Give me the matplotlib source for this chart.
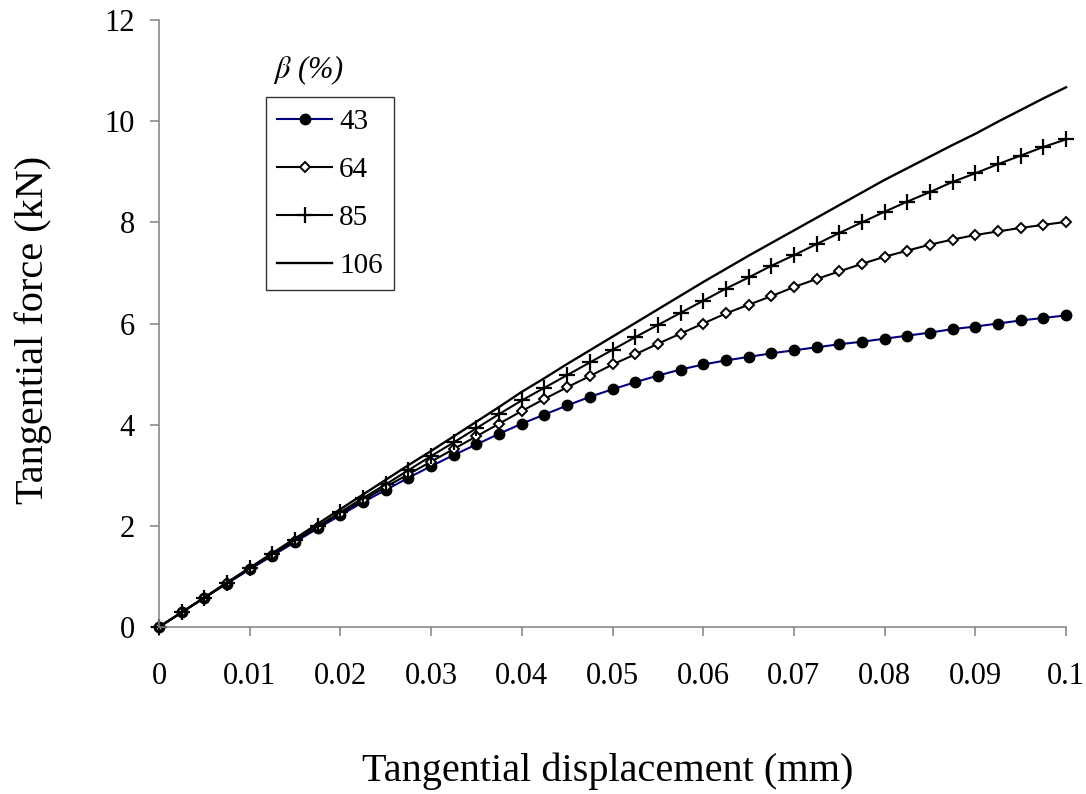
import matplotlib
matplotlib.use("Agg")
import matplotlib.pyplot as plt

plt.rcParams['font.family'] = ['Liberation Serif', 'DejaVu Serif']
plt.rcParams['mathtext.fontset'] = 'stix'

# tangential displacement (mm), step 0.0025
displacement = [i * 0.0025 for i in range(41)]

beta_labels = ["43", "64", "85", "106"]

force_43 = [0, 0.29, 0.58, 0.86, 1.14, 1.41, 1.68, 1.95, 2.21, 2.47,
            2.71, 2.95, 3.18, 3.40, 3.61, 3.82, 4.02, 4.20, 4.38, 4.55,
            4.70, 4.84, 4.97, 5.09, 5.19, 5.27, 5.34, 5.41, 5.47, 5.53,
            5.59, 5.64, 5.70, 5.76, 5.82, 5.89, 5.94, 6.00, 6.06, 6.11, 6.16]

force_64 = [0, 0.29, 0.58, 0.87, 1.15, 1.43, 1.70, 1.97, 2.24, 2.51,
            2.77, 3.02, 3.27, 3.52, 3.77, 4.02, 4.27, 4.51, 4.74, 4.96,
            5.19, 5.39, 5.60, 5.80, 6.00, 6.20, 6.37, 6.54, 6.72, 6.88,
            7.03, 7.18, 7.32, 7.44, 7.56, 7.66, 7.75, 7.82, 7.89, 7.95, 8.01]

force_85 = [0, 0.29, 0.58, 0.87, 1.16, 1.44, 1.72, 1.99, 2.27, 2.55,
            2.82, 3.10, 3.38, 3.65, 3.93, 4.21, 4.48, 4.73, 4.98, 5.23,
            5.48, 5.73, 5.97, 6.21, 6.45, 6.69, 6.91, 7.14, 7.35, 7.57,
            7.79, 8.00, 8.21, 8.41, 8.60, 8.80, 8.97, 9.15, 9.32, 9.49, 9.64]

force_106 = [0, 0.29, 0.58, 0.88, 1.17, 1.46, 1.75, 2.04, 2.33, 2.62,
             2.91, 3.20, 3.48, 3.77, 4.06, 4.35, 4.65, 4.92, 5.20, 5.47,
             5.74, 6.01, 6.28, 6.55, 6.82, 7.08, 7.34, 7.59, 7.84, 8.09,
             8.34, 8.59, 8.84, 9.07, 9.30, 9.53, 9.75, 9.99, 10.22, 10.45, 10.67]

fig = plt.figure(figsize=(10.86, 7.94), dpi=100)
ax = fig.add_axes([0.1464, 0.2103, 0.8352, 0.7645])

ax.plot(displacement, force_43, color='#000080', lw=1.5, marker='o',
        ms=7.5, mfc='black', mec='black', label=beta_labels[0], clip_on=False)
ax.plot(displacement, force_64, color='black', lw=1.5, marker='D',
        ms=5.5, mfc='white', mec='black', mew=1.4, label=beta_labels[1],
        clip_on=False)
ax.plot(displacement, force_85, color='black', lw=1.5, marker='+',
        ms=11, mew=1.6, label=beta_labels[2], clip_on=False)
ax.plot(displacement, force_106, color='black', lw=1.7, label=beta_labels[3],
        clip_on=False)

ax.set_xlim(0, 0.1)
ax.set_ylim(0, 12)
ax.set_xticks([i / 100 for i in range(11)])
ax.set_xticklabels(["0", "0.01", "0.02", "0.03", "0.04", "0.05", "0.06",
                    "0.07", "0.08", "0.09", "0.1"])
ax.set_yticks(range(0, 13, 2))

for side in ['top', 'right']:
    ax.spines[side].set_visible(False)
for side in ['left', 'bottom']:
    ax.spines[side].set_color('#808080')
    ax.spines[side].set_linewidth(1.1)
ax.tick_params(direction='out', length=6.5, width=1.1, color='#808080',
               labelsize=22)
ax.tick_params(axis='x', pad=19)
ax.tick_params(axis='y', pad=11)

ax.set_xlabel("Tangential displacement (mm)", fontsize=29)
ax.set_ylabel("Tangential force (kN)", fontsize=29)
ax.xaxis.set_label_coords(0.495, -0.207)
ax.yaxis.set_label_coords(-0.118, 0.49)

leg = ax.legend(loc='upper left', bbox_to_anchor=(0.1176, 0.8736),
                borderaxespad=0, fontsize=21, frameon=True, fancybox=False,
                handlelength=1.87, handletextpad=0.25, labelspacing=0.74,
                borderpad=0.4)
leg.get_frame().set_edgecolor('black')
leg.get_frame().set_linewidth(1.0)

ax.text(0.1257, 0.9176, r"$\beta$ (%)", transform=ax.transAxes,
        fontsize=22, style='italic', va='center', ha='left')

fig.savefig("out.png", dpi=100)
